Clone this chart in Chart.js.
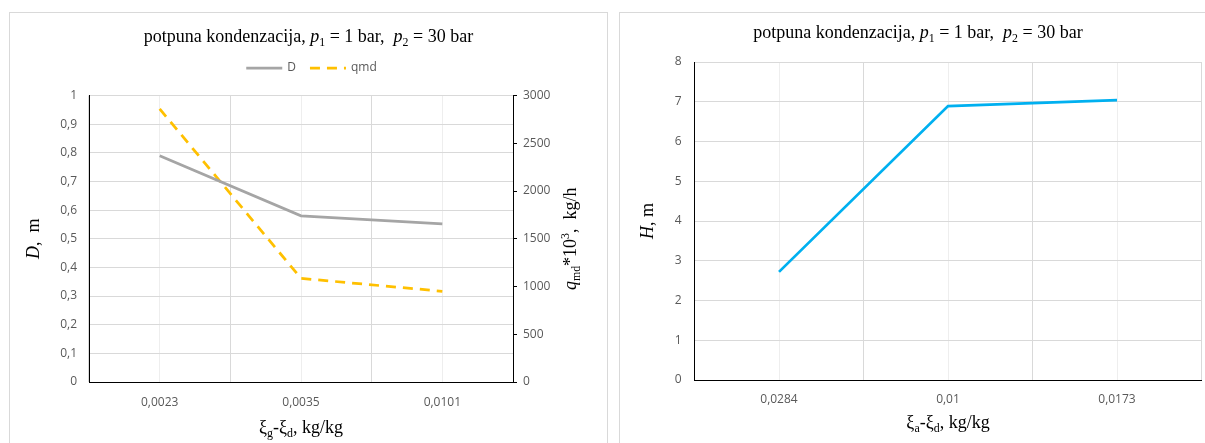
<!DOCTYPE html>
<html>
<head>
<meta charset="utf-8">
<script src="https://cdn.jsdelivr.net/npm/chart.js@4.4.1/dist/chart.umd.min.js"></script>
<style>
  html, body { margin: 0; padding: 0; background: #fff; overflow: hidden; }
  body { width: 1205px; height: 443px; position: relative; }
  .box { position: absolute; top: 12px; height: 440px; border: 1px solid #d9d9d9; box-sizing: border-box; background: #fff; }
  #boxLeft { left: 9px; width: 599px; }
  #boxRight { left: 619px; width: 598px; }
  canvas { display: block; }
</style>
</head>
<body>
<div class="box" id="boxLeft"><canvas id="chartLeft" width="597" height="438"></canvas></div>
<div class="box" id="boxRight"><canvas id="chartRight" width="596" height="438"></canvas></div>
<script>
// data
const categoriesLeft = ['0,0023', '0,0035', '0,0101'];
const diameterD = [0.79, 0.58, 0.552];
const flowQmd = [2860, 1085, 950];

const categoriesRight = ['0,0284', '0,01', '0,0173'];
const heightH = [2.72, 6.89, 7.04];

const SERIF = '"Liberation Serif", "Times New Roman", serif';
const SANS = '"Open Sans", "Liberation Sans", sans-serif';
const tickFont = { family: SANS, size: 12 };
const tickColor = '#595959';
const TITLE_SIZE = 18;

// rich text: [text, style] with style '' | 'i' | 'sub' | 'sup'
function drawRich(ctx, parts, cx, cy, size, angle) {
    ctx.save();
    ctx.translate(cx, cy);
    ctx.rotate(angle || 0);
    ctx.fillStyle = '#000';
    ctx.textBaseline = 'alphabetic';
    ctx.textAlign = 'left';
    const fontOf = p => {
        const small = p[1] === 'sub' || p[1] === 'sup';
        return (p[1] === 'i' ? 'italic ' : '') + (small ? size * 0.66 : size) + 'px ' + SERIF;
    };
    let total = 0;
    parts.forEach(p => { ctx.font = fontOf(p); total += ctx.measureText(p[0]).width; });
    let x = -total / 2;
    const base = size * 0.33;
    parts.forEach(p => {
        ctx.font = fontOf(p);
        let y = base;
        if (p[1] === 'sub') y += size * 0.22;
        if (p[1] === 'sup') y -= size * 0.4;
        ctx.fillText(p[0], x, y);
        x += ctx.measureText(p[0]).width;
    });
    ctx.restore();
}

const richTextPlugin = {
    id: 'richText',
    afterDraw(chart, args, opts) {
        const ctx = chart.ctx;
        const a = chart.chartArea;
        (opts.items || []).forEach(it => {
            const pos = it.pos(chart, a);
            drawRich(ctx, it.parts, pos[0], pos[1], TITLE_SIZE, it.angle);
        });
        if (opts.legend) {
            const ds = chart.data.datasets;
            ctx.save();
            ctx.font = '12px ' + SANS;
            const lineLen = 36, gapText = 5, gapItem = 14;
            let total = 0;
            ds.forEach((d, i) => { total += lineLen + gapText + ctx.measureText(d.label).width + (i ? gapItem : 0); });
            let x = chart.width / 2 - total / 2 + 3;
            const y = opts.legend.y;
            ds.forEach(d => {
                ctx.strokeStyle = d.borderColor;
                ctx.lineWidth = d.borderWidth;
                ctx.setLineDash(d.borderDash || []);
                ctx.beginPath();
                ctx.moveTo(x, y);
                ctx.lineTo(x + lineLen, y);
                ctx.stroke();
                ctx.setLineDash([]);
                ctx.fillStyle = tickColor;
                ctx.textBaseline = 'middle';
                ctx.fillText(d.label, x + lineLen + gapText, y);
                x += lineLen + gapText + ctx.measureText(d.label).width + gapItem;
            });
            ctx.restore();
        }
    }
};

const commaTick = v => String(Math.round(v * 10) / 10).replace('.', ',');
const plainTick = v => String(v);

const leftChart = new Chart(document.getElementById('chartLeft'), {
    type: 'line',
    data: {
        labels: categoriesLeft,
        datasets: [
            { label: 'D', data: diameterD, yAxisID: 'y', borderColor: '#A5A5A5', borderWidth: 2.75, pointRadius: 0, tension: 0 },
            { label: 'qmd', data: flowQmd, yAxisID: 'y1', borderColor: '#FFC000', borderWidth: 2.75, borderDash: [10, 7], pointRadius: 0, tension: 0 }
        ]
    },
    options: {
        responsive: false,
        animation: false,
        layout: { padding: { top: 82.5, left: 0, right: 0, bottom: 0 } },
        plugins: {
            legend: { display: false },
            tooltip: { enabled: false },
            richText: {
                legend: { y: 55 },
                items: [
                    { parts: [['potpuna kondenzacija, ', ''], ['p', 'i'], ['1', 'sub'], [' = 1 bar,  ', ''], ['p', 'i'], ['2', 'sub'], [' = 30 bar', '']],
                      pos: (c) => [c.width / 2, 23] },
                    { parts: [['D', 'i'], [',  m', '']], angle: -Math.PI / 2,
                      pos: (c, a) => [23, (a.top + a.bottom) / 2] },
                    { parts: [['q', 'i'], ['md', 'sub'], ['*10', ''], ['3', 'sup'], [',  kg/h', '']], angle: -Math.PI / 2,
                      pos: (c, a) => [a.right + 57, (a.top + a.bottom) / 2] },
                    { parts: [['\u03BE', ''], ['g', 'sub'], ['-\u03BE', ''], ['d', 'sub'], [', kg/kg', '']],
                      pos: (c, a) => [(a.left + a.right) / 2, a.bottom + 45] }
                ]
            }
        },
        scales: {
            x: {
                offset: true,
                grid: { offset: true, color: '#d9d9d9', drawTicks: false },
                border: { color: '#000' },
                ticks: { padding: 13, font: tickFont, color: tickColor },
                afterFit: s => { s.height = 69; }
            },
            x2: {
                type: 'category',
                position: 'top',
                offset: true,
                grid: { offset: false, color: '#eeeeee', drawTicks: false },
                border: { display: false },
                ticks: { display: false },
                afterFit: s => { s.height = 0; }
            },
            y: {
                min: 0, max: 1,
                ticks: { stepSize: 0.1, padding: 12, font: tickFont, color: tickColor, callback: commaTick },
                grid: { color: '#d9d9d9', drawTicks: false },
                border: { color: '#000' },
                afterFit: s => { s.width = 79; }
            },
            y1: {
                position: 'right',
                min: 0, max: 3000,
                ticks: { stepSize: 500, padding: 6, font: tickFont, color: tickColor, callback: plainTick },
                grid: { drawOnChartArea: false, tickLength: 4, color: '#000' },
                border: { color: '#000' },
                afterFit: s => { s.width = 94; }
            }
        }
    },
    plugins: [richTextPlugin]
});

const rightChart = new Chart(document.getElementById('chartRight'), {
    type: 'line',
    data: {
        labels: categoriesRight,
        datasets: [
            { label: 'H', data: heightH, borderColor: '#00B0F0', borderWidth: 2.75, pointRadius: 0, tension: 0 }
        ]
    },
    options: {
        responsive: false,
        animation: false,
        layout: { padding: { top: 49, left: 0, right: 14.5, bottom: 0 } },
        plugins: {
            legend: { display: false },
            tooltip: { enabled: false },
            richText: {
                items: [
                    { parts: [['potpuna kondenzacija, ', ''], ['p', 'i'], ['1', 'sub'], [' = 1 bar,  ', ''], ['p', 'i'], ['2', 'sub'], [' = 30 bar', '']],
                      pos: (c) => [c.width / 2, 19] },
                    { parts: [['H', 'i'], [', m', '']], angle: -Math.PI / 2,
                      pos: (c, a) => [27, (a.top + a.bottom) / 2] },
                    { parts: [['\u03BE', ''], ['a', 'sub'], ['-\u03BE', ''], ['d', 'sub'], [', kg/kg', '']],
                      pos: (c, a) => [(a.left + a.right) / 2, a.bottom + 42] }
                ]
            }
        },
        scales: {
            x: {
                offset: true,
                grid: { offset: true, color: '#d9d9d9', drawTicks: false },
                border: { color: '#000' },
                ticks: { padding: 12, font: tickFont, color: tickColor },
                afterFit: s => { s.height = 71; }
            },
            x2: {
                type: 'category',
                position: 'top',
                offset: true,
                grid: { offset: false, color: '#eeeeee', drawTicks: false },
                border: { display: false },
                ticks: { display: false },
                afterFit: s => { s.height = 0; }
            },
            y: {
                min: 0, max: 8,
                ticks: { stepSize: 1, padding: 13, font: tickFont, color: tickColor },
                grid: { color: '#d9d9d9', drawTicks: false },
                border: { color: '#000' },
                afterFit: s => { s.width = 74.5; }
            }
        }
    },
    plugins: [richTextPlugin]
});
</script>
</body>
</html>
